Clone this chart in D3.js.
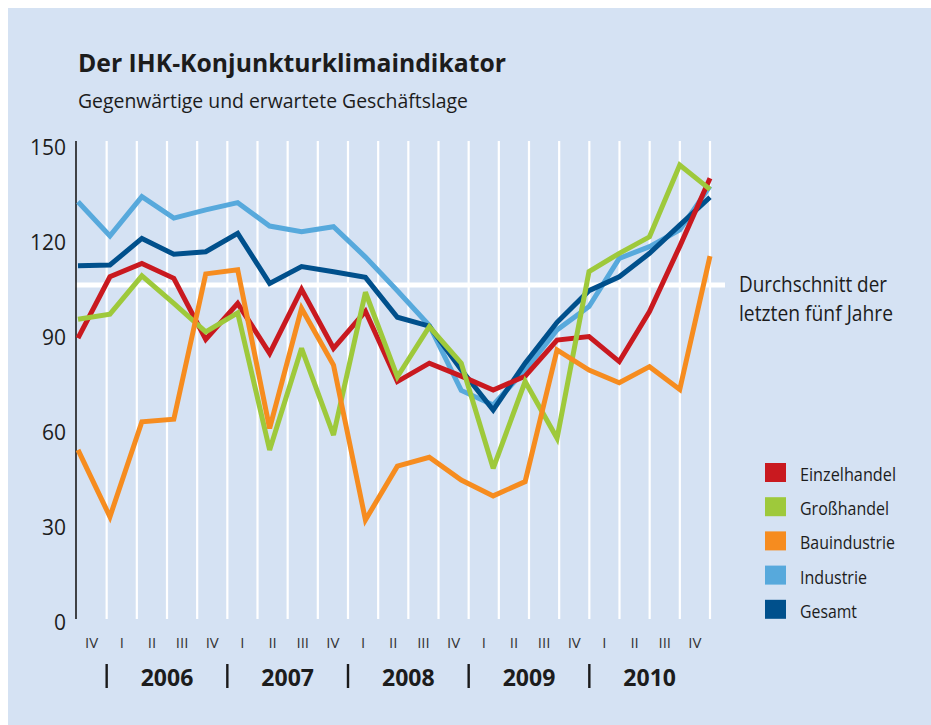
<!DOCTYPE html>
<html>
<head>
<meta charset="utf-8">
<script src="https://cdn.jsdelivr.net/npm/d3@7"></script>
<style>
  body { margin: 0; background: #fff; }
  svg { display: block; }
  text { font-family: "Open Sans", "Noto Sans", sans-serif; fill: #1c1c1c; }
</style>
</head>
<body>
<svg id="chart" width="931" height="725"></svg>
<script>
// quarters from IV/2005 to IV/2010
const quarters = ["IV", "I", "II", "III", "IV", "I", "II", "III", "IV", "I", "II", "III", "IV",
                  "I", "II", "III", "IV", "I", "II", "III", "IV"];
const years = ["2006", "2007", "2008", "2009", "2010"];
const yTicks = [0, 30, 60, 90, 120, 150];
const average = 105.8; // Durchschnitt der letzten fünf Jahre

const einzelhandel = [89, 108.4, 112.6, 107.9, 88.6, 100, 84.2, 104.4, 85.8, 97.5, 75.3, 81.1, 77,
                      72.6, 77, 88.4, 89.5, 81.6, 97.4, 118, 139.5];
const grosshandel  = [95, 96.6, 108.7, 100, 91, 97, 53.7, 85.8, 58.4, 103.5, 76.8, 92.6, 81.1,
                      47.9, 75.3, 57.4, 110, 115.8, 121, 143.7, 136];
const bauindustrie = [53.7, 32.6, 62.6, 63.4, 109.3, 110.6, 60.5, 98.4, 80.5, 31.6, 48.6, 51.4, 44.2,
                      39.2, 43.7, 85.3, 78.9, 74.9, 80, 72.8, 114.9];
const industrie    = [132.1, 121.3, 133.7, 126.9, 129.5, 131.8, 124.4, 122.6, 124.2, 114.6, 104, 93, 72.5,
                      67.9, 79, 91.6, 99, 114.2, 117.9, 123.2, 137];
const gesamt       = [111.9, 112.1, 120.5, 115.5, 116.3, 122.1, 106.3, 111.6, 110, 108.2, 95.6, 92.8, 79,
                      66.3, 81.1, 94, 104, 108.4, 115.8, 124.7, 133.5];

const series = [
    { name: "Industrie", values: industrie, color: "#57a9dc" },
    { name: "Gesamt", values: gesamt, color: "#00508c" },
    { name: "Einzelhandel", values: einzelhandel, color: "#c9191f" },
    { name: "Großhandel", values: grosshandel, color: "#9ec93b" },
    { name: "Bauindustrie", values: bauindustrie, color: "#f68c1f" },
];
const legendOrder = ["Einzelhandel", "Großhandel", "Bauindustrie", "Industrie", "Gesamt"];

const svg = d3.select("#chart");

// panel background
svg.append("rect")
    .attr("x", 8).attr("y", 8)
    .attr("width", 931 - 8).attr("height", 725 - 8)
    .attr("fill", "#d5e2f3");

// squeeze a text to a given width (the original uses a condensed face)
function fit(sel, w) {
    sel.each(function() {
        if (this.getComputedTextLength() > w) {
            d3.select(this).attr("textLength", w).attr("lengthAdjust", "spacingAndGlyphs");
        }
    });
    return sel;
}

// title
fit(svg.append("text")
    .attr("x", 78).attr("y", 72)
    .attr("font-size", 25).attr("font-weight", "bold")
    .text("Der IHK-Konjunkturklimaindikator"), 428);
fit(svg.append("text")
    .attr("x", 78).attr("y", 108)
    .attr("font-size", 20)
    .text("Gegenwärtige und erwartete Geschäftslage"), 390);

// scales
const x = d3.scaleLinear().domain([0, 16, 20]).range([78, 589, 710]);
const band = d3.scaleBand().domain(d3.range(quarters.length)).range([76.5, 710]);
const y = d3.scaleLinear().domain([0, 150]).range([620, 145]);

// vertical white gridlines at band borders
const borders = d3.range(1, quarters.length + 1).map(k => band.range()[0] + k * band.step());
svg.append("g")
    .selectAll("line")
    .data(borders)
    .join("line")
    .attr("x1", d => d).attr("x2", d => d)
    .attr("y1", y(150) - 4).attr("y2", y(0) - 1)
    .attr("stroke", "#fff")
    .attr("stroke-width", 2.2);

// average line
svg.append("line")
    .attr("x1", 75).attr("x2", 725)
    .attr("y1", y(average)).attr("y2", y(average))
    .attr("stroke", "#fff")
    .attr("stroke-width", 5);

const avgText = svg.append("text")
    .attr("x", 739).attr("y", y(average) + 7)
    .attr("font-size", 21);
fit(avgText.append("tspan").attr("x", 739).text("Durchschnitt der"), 148);
fit(avgText.append("tspan").attr("x", 739).attr("dy", 29).text("letzten fünf Jahre"), 154);

// y axis
const yAxis = svg.append("g")
    .attr("transform", "translate(76,0)")
    .call(d3.axisLeft(y).tickValues(yTicks).tickSize(0).tickSizeOuter(0).tickPadding(10));
yAxis.select(".domain")
    .attr("stroke", "#1a1a1a")
    .attr("stroke-width", 1.6)
    .attr("d", `M0,${y(150) - 4}V${y(0) - 1}`);
yAxis.selectAll(".tick text")
    .attr("font-size", 21)
    .attr("font-family", "Open Sans, sans-serif")
    .attr("fill", "#1c1c1c")
    .attr("dy", "0.45em");

// lines
const line = d3.line()
    .x((d, i) => x(i))
    .y(d => y(d))
    .curve(d3.curveLinear);

svg.append("g")
    .selectAll("path")
    .data(series)
    .join("path")
    .attr("d", d => line(d.values))
    .attr("fill", "none")
    .attr("stroke", d => d.color)
    .attr("stroke-width", 5)
    .attr("stroke-linejoin", "miter")
    .attr("stroke-miterlimit", 3);

// quarter labels
svg.append("g")
    .selectAll("text")
    .data(quarters)
    .join("text")
    .attr("x", (d, i) => band(i) + band.bandwidth() / 2)
    .attr("y", 648)
    .attr("text-anchor", "middle")
    .attr("font-size", 15)
    .style("fill", "#333")
    .text(d => d);

// year separators and labels
const yearStarts = years.map((d, j) => 1 + 4 * j);
svg.append("g")
    .selectAll("line")
    .data(yearStarts)
    .join("line")
    .attr("x1", d => band(d)).attr("x2", d => band(d))
    .attr("y1", 664).attr("y2", 688)
    .attr("stroke", "#1a1a1a")
    .attr("stroke-width", 2.4);

svg.append("g")
    .selectAll("text")
    .data(years)
    .join("text")
    .attr("x", (d, j) => band(yearStarts[j]) + 2 * band.step())
    .attr("y", 686)
    .attr("text-anchor", "middle")
    .attr("font-size", 23)
    .attr("font-weight", "bold")
    .text(d => d);

// legend
const legendWidths = { "Einzelhandel": 96, "Großhandel": 89, "Bauindustrie": 95, "Industrie": 67, "Gesamt": 57 };
const legend = svg.append("g")
    .selectAll("g")
    .data(legendOrder.map(n => series.find(s => s.name === n)))
    .join("g")
    .attr("transform", (d, i) => `translate(765,${463 + i * 34.2})`);
legend.append("rect")
    .attr("width", 21).attr("height", 19)
    .attr("fill", d => d.color);
legend.append("text")
    .attr("x", 35).attr("y", 18)
    .attr("font-size", 19)
    .text(d => d.name)
    .each(function(d) { fit(d3.select(this), legendWidths[d.name]); });
</script>
</body>
</html>
